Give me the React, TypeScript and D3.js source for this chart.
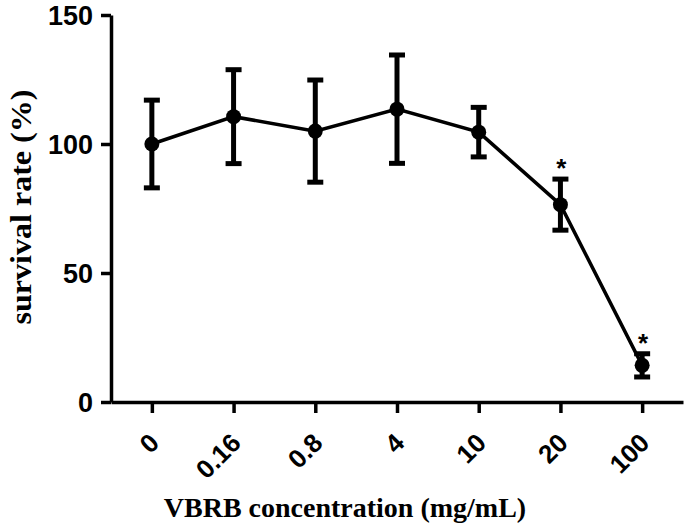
import React, { useEffect, useRef } from 'react'
import * as d3 from 'd3'

const doses = ['0', '0.16', '0.8', '4', '10', '20', '100']
const survival = [100, 110.6, 105, 113.5, 104.6, 76.5, 14.2]
const errors = [17, 18.2, 19.8, 21, 9.6, 9.9, 4.5]
const significant = [false, false, false, false, false, true, true]
const yTicks = [0, 50, 100, 150]

const App = () => {
  const ref = useRef<SVGSVGElement>(null)

  useEffect(() => {
    const svg = d3.select(ref.current)
    svg.selectAll('*').remove()

    const x = d3.scalePoint().domain(doses).range([111, 683]).padding(0.5)
    const y = d3.scaleLinear().domain([0, 150]).range([402, 15])

    const tickFont = 'Arial, "Liberation Sans", Helvetica, sans-serif'
    const titleFont = '"Times New Roman", "Liberation Serif", Times, serif'

    // y axis
    const yAxis = svg.append('g')
      .attr('transform', 'translate(111,0)')
      .call(d3.axisLeft(y).tickValues(yTicks).tickSize(10).tickPadding(8).tickSizeOuter(0))
    yAxis.select('.domain').attr('stroke-width', 3.5)
    yAxis.selectAll('.tick line').attr('stroke-width', 3.5)
    yAxis.selectAll('.tick text')
      .attr('font-family', tickFont).attr('font-weight', 'bold').attr('font-size', 27)
      .attr('fill', '#000').attr('dy', '0.36em')

    // x axis
    const xAxis = svg.append('g')
      .attr('transform', 'translate(0,402)')
      .call(d3.axisBottom(x).tickSize(11).tickSizeOuter(0))
    xAxis.select('.domain').attr('stroke-width', 3.5)
    xAxis.selectAll('.tick line').attr('stroke-width', 3.5)
    xAxis.selectAll('.tick text')
      .attr('font-family', tickFont).attr('font-weight', 'bold').attr('font-size', 26)
      .attr('fill', '#000')
      .attr('text-anchor', 'end')
      .attr('dy', '0.35em')
      .attr('transform', 'translate(2,36) rotate(-45)')
      .attr('y', 0).attr('x', 0)

    const data = doses.map((d, i) => ({ d, v: survival[i], e: errors[i], s: significant[i] }))

    // error bars
    const eb = svg.append('g').attr('stroke', '#000').attr('stroke-width', 5)
    data.forEach(p => {
      const cx = x(p.d)!
      eb.append('line').attr('x1', cx).attr('x2', cx).attr('y1', y(p.v + p.e)).attr('y2', y(p.v - p.e))
      eb.append('line').attr('x1', cx - 8).attr('x2', cx + 8).attr('y1', y(p.v + p.e)).attr('y2', y(p.v + p.e))
      eb.append('line').attr('x1', cx - 8).attr('x2', cx + 8).attr('y1', y(p.v - p.e)).attr('y2', y(p.v - p.e))
    })

    // line
    const line = d3.line<typeof data[0]>().x(p => x(p.d)!).y(p => y(p.v))
    svg.append('path').datum(data)
      .attr('d', line).attr('fill', 'none').attr('stroke', '#000').attr('stroke-width', 3.5)

    // markers
    svg.append('g').selectAll('circle').data(data).join('circle')
      .attr('cx', p => x(p.d)!).attr('cy', p => y(p.v)).attr('r', 7.5).attr('fill', '#000')

    // stars
    svg.append('g').selectAll('text').data(data.filter(p => p.s)).join('text')
      .attr('x', p => x(p.d)! + 1).attr('y', p => y(p.v + p.e) - 2)
      .attr('text-anchor', 'middle')
      .attr('font-family', tickFont).attr('font-weight', 'bold').attr('font-size', 26)
      .text('*')

    // titles
    svg.append('text')
      .attr('x', 345).attr('y', 517)
      .attr('text-anchor', 'middle')
      .attr('font-family', titleFont).attr('font-weight', 'bold').attr('font-size', 28)
      .text('VBRB concentration (mg/mL)')

    svg.append('text')
      .attr('transform', 'translate(31,207) rotate(-90)')
      .attr('text-anchor', 'middle')
      .attr('font-family', titleFont).attr('font-weight', 'bold').attr('font-size', 29)
      .attr('textLength', 235).attr('lengthAdjust', 'spacingAndGlyphs')
      .text('survival rate (%)')
  })

  return (
    <svg ref={ref} width="685" height="530" style={{ position: 'absolute', left: 0, top: 0, background: '#fff' }}>
    </svg>
  )
}

export default App
